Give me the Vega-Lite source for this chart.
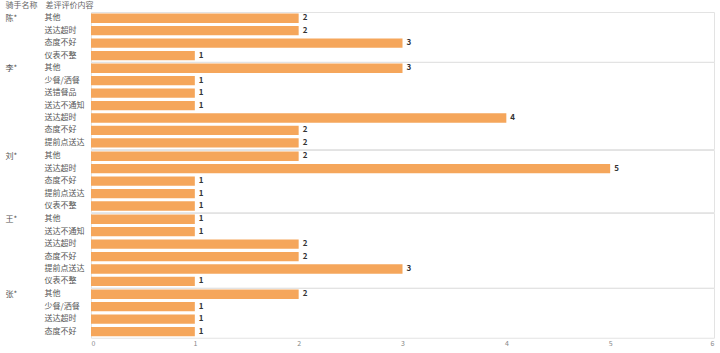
{
  "$schema": "https://vega.github.io/schema/vega-lite/v6.json",
  "background": "white",
  "padding": {"left": 5, "top": 1, "right": 6, "bottom": 0},
  "bounds": "flush",
  "title": {"text": "骑手名称　差评评价内容", "anchor": "start", "fontSize": 8, "fontWeight": "normal", "color": "#666", "font": "Noto Sans CJK SC", "offset": 2},
  "data": {"values": [
    {"rider": "陈*", "content": "其他", "ord": 1, "count": 2},
    {"rider": "陈*", "content": "送达超时", "ord": 2, "count": 2},
    {"rider": "陈*", "content": "态度不好", "ord": 3, "count": 3},
    {"rider": "陈*", "content": "仪表不整", "ord": 4, "count": 1},
    {"rider": "李*", "content": "其他", "ord": 1, "count": 3},
    {"rider": "李*", "content": "少餐/洒餐", "ord": 2, "count": 1},
    {"rider": "李*", "content": "送错餐品", "ord": 3, "count": 1},
    {"rider": "李*", "content": "送达不通知", "ord": 4, "count": 1},
    {"rider": "李*", "content": "送达超时", "ord": 5, "count": 4},
    {"rider": "李*", "content": "态度不好", "ord": 6, "count": 2},
    {"rider": "李*", "content": "提前点送达", "ord": 7, "count": 2},
    {"rider": "刘*", "content": "其他", "ord": 1, "count": 2},
    {"rider": "刘*", "content": "送达超时", "ord": 2, "count": 5},
    {"rider": "刘*", "content": "态度不好", "ord": 3, "count": 1},
    {"rider": "刘*", "content": "提前点送达", "ord": 4, "count": 1},
    {"rider": "刘*", "content": "仪表不整", "ord": 5, "count": 1},
    {"rider": "王*", "content": "其他", "ord": 1, "count": 1},
    {"rider": "王*", "content": "送达不通知", "ord": 2, "count": 1},
    {"rider": "王*", "content": "送达超时", "ord": 3, "count": 2},
    {"rider": "王*", "content": "态度不好", "ord": 4, "count": 2},
    {"rider": "王*", "content": "提前点送达", "ord": 5, "count": 3},
    {"rider": "王*", "content": "仪表不整", "ord": 6, "count": 1},
    {"rider": "张*", "content": "其他", "ord": 1, "count": 2},
    {"rider": "张*", "content": "少餐/洒餐", "ord": 2, "count": 1},
    {"rider": "张*", "content": "送达超时", "ord": 3, "count": 1},
    {"rider": "张*", "content": "态度不好", "ord": 4, "count": 1}
  ]},
  "facet": {
    "row": {
      "field": "rider", "type": "nominal",
      "sort": ["陈*", "李*", "刘*", "王*", "张*"],
      "header": {
        "title": null,
        "labelAngle": 0, "labelOrient": "left", "labelAnchor": "end", "labelBaseline": "line-top", "labelLineHeight": 12.44, "labelAlign": "right",
        "labelFontSize": 8, "labelColor": "#555", "labelFont": "Noto Sans CJK SC", "labelPadding": 62
      }
    }
  },
  "spacing": 0,
  "resolve": {"scale": {"y": "independent"}},
  "spec": {
    "width": 623,
    "height": {"step": 12.44},
    "encoding": {
      "y": {
        "field": "content", "type": "nominal", "sort": {"field": "ord", "op": "min"},
        "scale": {"paddingInner": 0.25, "paddingOuter": 0.125},
        "axis": {"title": null, "domain": false, "ticks": false, "labelAlign": "left", "labelPadding": 47, "labelFontSize": 8, "labelColor": "#555", "labelFont": "Noto Sans CJK SC"}
      },
      "x": {
        "field": "count", "type": "quantitative",
        "scale": {"domain": [0, 6], "nice": false},
        "axis": {"title": null, "grid": false, "domain": false, "ticks": false, "values": [0, 1, 2, 3, 4, 5, 6], "labelFontSize": 7, "labelColor": "#888", "labelPadding": 1, "labelFont": "Noto Sans CJK SC"}
      }
    },
    "layer": [
      {"mark": {"type": "bar", "color": "#f5a65b"}},
      {"mark": {"type": "text", "align": "left", "dx": 4, "fontSize": 8, "fontWeight": "bold", "color": "#333", "font": "Noto Sans CJK SC"}, "encoding": {"text": {"field": "count"}}}
    ]
  },
  "config": {"view": {"stroke": "#e3e3e3"}}
}
